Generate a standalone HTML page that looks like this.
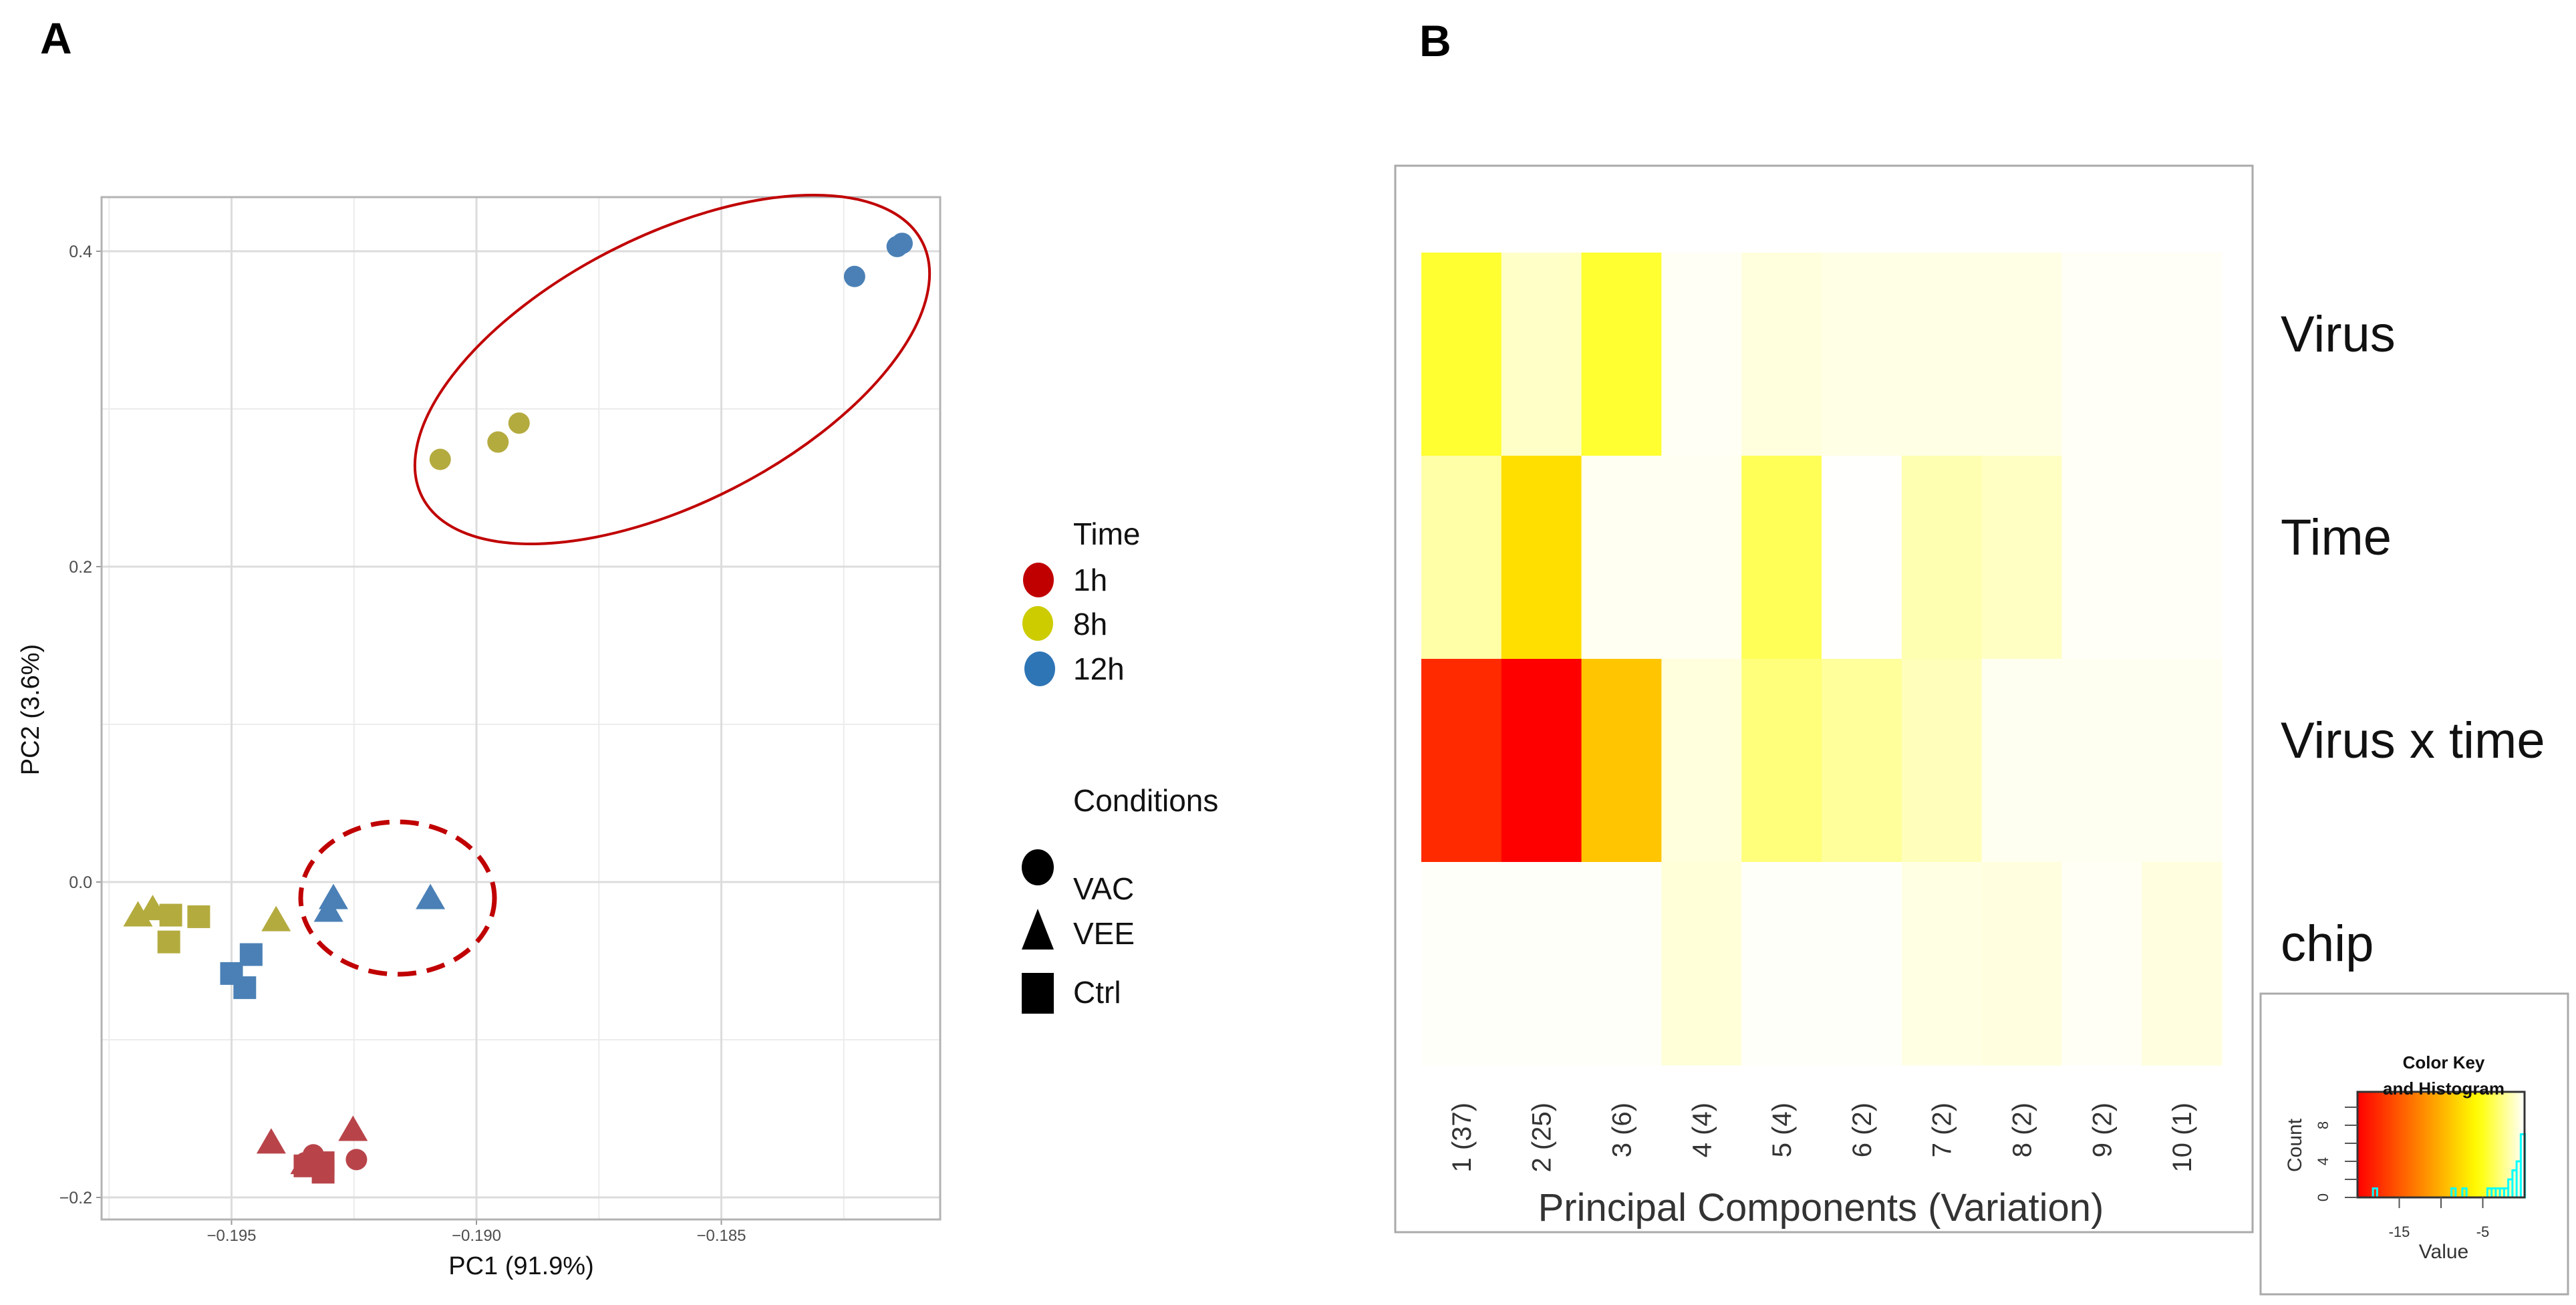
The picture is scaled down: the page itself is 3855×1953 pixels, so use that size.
<!DOCTYPE html>
<html><head><meta charset="utf-8"><style>
html,body{margin:0;padding:0;background:#fff;}
svg{display:block;font-family:"Liberation Sans",sans-serif;}
</style></head><body>
<svg id="fig" width="3855" height="1953" viewBox="0 0 3855 1953" xmlns="http://www.w3.org/2000/svg">
<rect x="0" y="0" width="3855" height="1953" fill="#fff"/>
<text x="60" y="80" font-size="66" font-weight="bold">A</text>
<text x="2124" y="84" font-size="66" font-weight="bold">B</text>
<g id="pca"></g>
<g id="legend">
  <text x="1606" y="815" font-size="46" fill="#111">Time</text>
  <ellipse cx="1554" cy="868" rx="23" ry="26" fill="#c00000"/>
  <text x="1606" y="884" font-size="46" fill="#111">1h</text>
  <ellipse cx="1553" cy="933" rx="23" ry="26" fill="#cccc00"/>
  <text x="1606" y="950" font-size="46" fill="#111">8h</text>
  <ellipse cx="1556" cy="1001" rx="23" ry="26" fill="#2e75b6"/>
  <text x="1606" y="1017" font-size="46" fill="#111">12h</text>
  <text x="1606" y="1214" font-size="46" fill="#111">Conditions</text>
  <ellipse cx="1553" cy="1298" rx="24" ry="27" fill="#000"/>
  <text x="1606" y="1346" font-size="46" fill="#111">VAC</text>
  <polygon points="1553,1360 1577,1421 1529,1421" fill="#000"/>
  <text x="1606" y="1413" font-size="46" fill="#111">VEE</text>
  <rect x="1529" y="1456" width="48" height="61" fill="#000"/>
  <text x="1606" y="1501" font-size="46" fill="#111">Ctrl</text>
</g>
<g id="heat"></g>
<g id="key"></g>
</svg>
<script>
// ---- Panel A data ----
const pc1 = [-0.18228,-0.18141,-0.18131,-0.19074,-0.18956,-0.18913,-0.19691,-0.19661,-0.19409,-0.19624,-0.19567,-0.19628,-0.19460,-0.19500,-0.19473,-0.19292,-0.19302,-0.19094,-0.19419,-0.19252,-0.19350,-0.19333,-0.19245,-0.19350,-0.19313,-0.19350,-0.19313];
const pc2 = [0.384,0.403,0.405,0.268,0.279,0.291,-0.021,-0.017,-0.024,-0.021,-0.022,-0.038,-0.046,-0.058,-0.067,-0.010,-0.018,-0.010,-0.165,-0.157,-0.178,-0.173,-0.176,-0.178,-0.178,-0.180,-0.184];
const timeGroup = ["12h","12h","12h","8h","8h","8h","8h","8h","8h","8h","8h","8h","12h","12h","12h","12h","12h","12h","1h","1h","1h","1h","1h","1h","1h","1h","1h"];
const condGroup = ["VAC","VAC","VAC","VAC","VAC","VAC","VEE","VEE","VEE","Ctrl","Ctrl","Ctrl","Ctrl","Ctrl","Ctrl","VEE","VEE","VEE","VEE","VEE","VEE","VAC","VAC","VAC","Ctrl","Ctrl","Ctrl"];
const xTicks = [-0.195,-0.190,-0.185];
const xTickLabels = ["\u22120.195","\u22120.190","\u22120.185"];
const xMinor = [-0.1975,-0.1925,-0.1875,-0.1825];
const yTicks = [-0.2,0.0,0.2,0.4];
const yTickLabels = ["\u22120.2","0.0","0.2","0.4"];
const yMinor = [-0.1,0.1,0.3];

// ---- Panel B data ----
const pcLabels = ["1 (37)","2 (25)","3 (6)","4 (4)","5 (4)","6 (2)","7 (2)","8 (2)","9 (2)","10 (1)"];
const rowLabels = ["Virus","Time","Virus x time","chip"];
const virusVals = [-4.5,-1.2,-4.5,-0.2,-0.75,-0.55,-0.55,-0.55,-0.15,-0.15];
const timeVals = [-1.9,-7.4,-0.28,-0.28,-3.7,-0.05,-1.7,-1.3,-0.15,-0.15];
const interVals = [-17.6,-20,-8.9,-0.75,-2.9,-2.2,-1.5,-0.3,-0.3,-0.3];
const chipVals = [-0.1,-0.1,-0.1,-0.85,-0.1,-0.1,-0.6,-0.7,-0.2,-0.7];
const keyTicks = [-15,-10,-5];
const keyTickLabels = ["-15","","-5"];
const countTicks = [0,2,4,6,8,10];
const countTickLabels = ["0","","4","","8",""];
const histBins = [-17.9,-8.5,-7.2,-4.2,-3.7,-3.2,-2.7,-2.2,-1.7,-1.2,-0.7,-0.2];
const histCounts = [1,1,1,1,1,1,1,1,2,3,4,7];

const NS="http://www.w3.org/2000/svg";
function mk(parent,tag,attrs,text){const e=document.createElementNS(NS,tag);for(const k in attrs)e.setAttribute(k,attrs[k]);if(text!==undefined)e.textContent=text;parent.appendChild(e);return e;}

// ---- Panel A ----
const xS = v => 713 + (v + 0.190) * 73300;
const yS = v => 1320 - v * 2360;
const PX0=152,PX1=1407,PY0=295,PY1=1825;
const pca=document.getElementById('pca');
mk(pca,'rect',{x:PX0,y:PY0,width:PX1-PX0,height:PY1-PY0,fill:'#fff'});
xMinor.forEach(v=>{const l=mk(pca,'line',{x1:xS(v),x2:xS(v),y1:PY0,y2:PY1,stroke:'#ececec','stroke-width':2});

});
yMinor.forEach(v=>{const l=mk(pca,'line',{x1:PX0,x2:PX1,y1:yS(v),y2:yS(v),stroke:'#ececec','stroke-width':2});

});
xTicks.forEach((v,i)=>{const l=mk(pca,'line',{x1:xS(v),x2:xS(v),y1:PY0,y2:PY1,stroke:'#dcdcdc','stroke-width':3});


mk(pca,'line',{x1:xS(v),x2:xS(v),y1:PY1,y2:PY1+8,stroke:'#999','stroke-width':2});
const t=mk(pca,'text',{x:xS(v),y:1857,'font-size':24,fill:'#4d4d4d','text-anchor':'middle'},xTickLabels[i]);

});
yTicks.forEach((v,i)=>{const l=mk(pca,'line',{x1:PX0,x2:PX1,y1:yS(v),y2:yS(v),stroke:'#dcdcdc','stroke-width':3});


mk(pca,'line',{x1:PX0-8,x2:PX0,y1:yS(v),y2:yS(v),stroke:'#999','stroke-width':2});
const t=mk(pca,'text',{x:138,y:yS(v)+9,'font-size':25,fill:'#4d4d4d','text-anchor':'end'},yTickLabels[i]);

});
const fr=mk(pca,'rect',{x:PX0,y:PY0,width:PX1-PX0,height:PY1-PY0,fill:'none',stroke:'#b3b3b3','stroke-width':3});


const xt=mk(pca,'text',{x:780,y:1907,'font-size':38,fill:'#111','text-anchor':'middle'},'PC1 (91.9%)');


const yt=mk(pca,'text',{x:0,y:0,'font-size':38,fill:'#111','text-anchor':'middle',transform:'translate(58,1062) rotate(-90)'},'PC2 (3.6%)');


const tcol={"1h":"#b8444a","8h":"#b4ab3f","12h":"#4a80b6"};
pc1.forEach((v,i)=>{const x=xS(v),y=yS(pc2[i]),c=tcol[timeGroup[i]];let m;
if(condGroup[i]==='VAC')m=mk(pca,'ellipse',{cx:x,cy:y,rx:16,ry:16,fill:c});
else if(condGroup[i]==='VEE')m=mk(pca,'polygon',{points:`${x},${y-21} ${x+22},${y+17} ${x-22},${y+17}`,fill:c});
else m=mk(pca,'rect',{x:x-17,y:y-17,width:34,height:34,fill:c});

});
const e1=mk(pca,'ellipse',{cx:1006,cy:553,rx:420,ry:200,fill:'none',stroke:'#c00000','stroke-width':4,transform:'rotate(-27 1006 553)'});


const e2=mk(pca,'ellipse',{cx:595,cy:1344,rx:145,ry:114,fill:'none',stroke:'#c00000','stroke-width':7,'stroke-dasharray':'28 16'});



// ---- Panel B ----
function heatColor(v){let t=(v+20)/20;t=Math.max(0,Math.min(1,t));
if(t<0.72){return `rgb(255,${Math.round(255*t/0.72)},0)`;}return `rgb(255,255,${Math.round(255*(t-0.72)/0.28)})`;}
const heat=document.getElementById('heat');
const hb=mk(heat,'rect',{x:2088,y:248,width:1283,height:1596,fill:'#fff',stroke:'#aaa','stroke-width':3});


const HX0=2127,HX1=3325,HY0=378,HY1=1594;
const cw=(HX1-HX0)/pcLabels.length, rh=(HY1-HY0)/rowLabels.length;
const rows=[virusVals,timeVals,interVals,chipVals];
rows.forEach((vals,r)=>{vals.forEach((v,c)=>{const cell=mk(heat,'rect',{x:HX0+c*cw,y:HY0+r*rh,width:cw+0.5,height:rh+0.5,fill:heatColor(v)});

});
const rl=mk(heat,'text',{x:3413,y:HY0+(r+0.5)*rh-4,'font-size':76,fill:'#111'},rowLabels[r]);

});
pcLabels.forEach((s,c)=>{const cx=HX0+(c+0.5)*cw+14;
const t=mk(heat,'text',{x:0,y:0,'font-size':40,fill:'#333','text-anchor':'end',transform:`translate(${cx},1650) rotate(-90)`},s);

});
const ht=mk(heat,'text',{x:2725,y:1827,'font-size':58,fill:'#333','text-anchor':'middle'},'Principal Components (Variation)');



// ---- Color key ----
const key=document.getElementById('key');
const kb=mk(key,'rect',{x:3383,y:1487,width:460,height:450,fill:'#fff',stroke:'#aaa','stroke-width':3});


const KX0=3528,KX1=3778,KY0=1634,KY1=1792;
const kx=v=>KX0+(v+20)/20*(KX1-KX0);
const ky=c=>KY1-c*13.5;
const defs=mk(key,'defs',{});
const g=mk(defs,'linearGradient',{id:'kg',x1:0,x2:1,y1:0,y2:0});
for(let i=0;i<=20;i++){mk(g,'stop',{offset:i/20,'stop-color':heatColor(-20+i)});}
const gr=mk(key,'rect',{x:KX0,y:KY0,width:KX1-KX0,height:KY1-KY0,fill:'url(#kg)'});


let d=`M${KX0},${KY1}`;
histBins.forEach((b,i)=>{const xa=kx(b-0.25),xb=kx(b+0.25),y=ky(histCounts[i]);d+=` L${xa},${KY1} L${xa},${y} L${xb},${y} L${xb},${KY1}`;});
d+=` L${KX1},${KY1}`;
const hp=mk(key,'path',{d:d,fill:'none',stroke:'#00ffff','stroke-width':3});


mk(key,'rect',{x:KX0,y:KY0,width:KX1-KX0,height:KY1-KY0,fill:'none',stroke:'#333','stroke-width':3});
countTicks.forEach((c,i)=>{mk(key,'line',{x1:KX0-19,x2:KX0,y1:ky(c),y2:ky(c),stroke:'#555','stroke-width':2});
if(countTickLabels[i]){const t=mk(key,'text',{x:0,y:0,'font-size':22,fill:'#333','text-anchor':'middle',transform:`translate(3484,${ky(c)}) rotate(-90)`},countTickLabels[i]);

}});
keyTicks.forEach((v,i)=>{mk(key,'line',{x1:kx(v),x2:kx(v),y1:KY1,y2:KY1+16,stroke:'#555','stroke-width':2});
if(keyTickLabels[i]){const t=mk(key,'text',{x:kx(v),y:1851,'font-size':22,fill:'#333','text-anchor':'middle'},keyTickLabels[i]);

}});
const k1=mk(key,'text',{x:3657,y:1599,'font-size':26,'font-weight':'bold',fill:'#111','text-anchor':'middle'},'Color Key');


const k2=mk(key,'text',{x:3657,y:1638,'font-size':26,'font-weight':'bold',fill:'#111','text-anchor':'middle'},'and Histogram');


const k3=mk(key,'text',{x:3657,y:1883,'font-size':30,fill:'#333','text-anchor':'middle'},'Value');


const k4=mk(key,'text',{x:0,y:0,'font-size':30,fill:'#333','text-anchor':'middle',transform:'translate(3444,1714) rotate(-90)'},'Count');


</script>
</body></html>
